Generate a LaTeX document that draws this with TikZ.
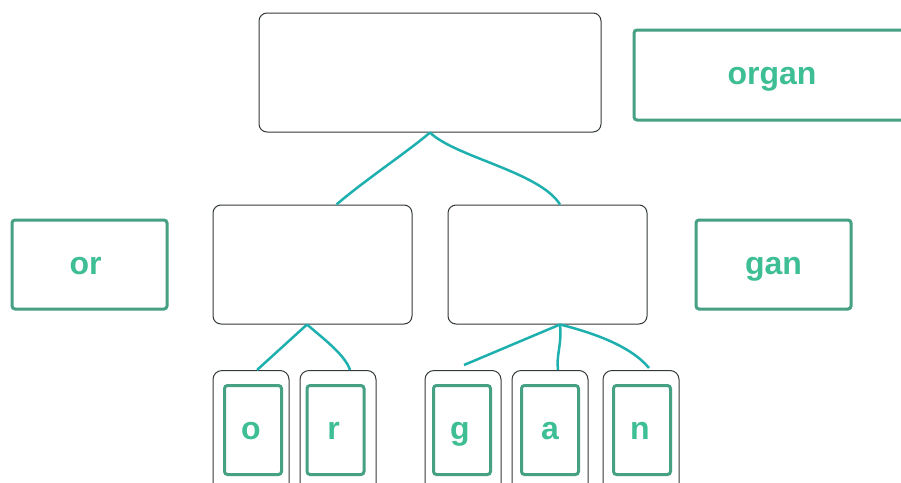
\documentclass[tikz,border=0pt]{standalone}
\usepackage{fontspec}
\setmainfont{Liberation Sans}
\definecolor{boxline}{HTML}{333A38}
\definecolor{gstroke}{HTML}{45A084}
\definecolor{gtext}{HTML}{3DBE94}
\definecolor{teal}{HTML}{1EB0AE}
\begin{document}
\begin{tikzpicture}[x=1pt,y=-1pt,
  plain/.style={draw=boxline,line width=1pt,rounded corners=8pt,inner sep=0pt,fill=white},
  gbox/.style={draw=gstroke,line width=3pt,rounded corners=3pt,inner sep=0pt,fill=white,
    text=gtext,font=\bfseries\fontsize{32}{32}\selectfont,text height=19pt,text depth=0pt},
  link/.style={draw=teal,line width=2.5pt}]
\clip (0,0) rectangle (901,482);
\useasboundingbox (0,0) rectangle (901,482);
% top
\node[plain,minimum width=342pt,minimum height=119pt] (top) at (430,72.5) {};
\node[gbox,minimum width=276pt,minimum height=90pt] (organ) at (772,75) {organ};
% middle
\node[plain,minimum width=199pt,minimum height=119pt] (ml) at (312.5,264.5) {};
\node[plain,minimum width=199pt,minimum height=119pt] (mr) at (547.5,264.5) {};
\node[gbox,minimum width=155pt,minimum height=89pt] (or) at (89.5,264.5) {\hspace*{-8pt}or};
\node[gbox,minimum width=155pt,minimum height=89pt] (gan) at (773.5,264.5) {gan};
% bottom outer
\node[plain,rounded corners=9pt,minimum width=76pt,minimum height=140pt] (b1) at (251,440.5) {};
\node[plain,rounded corners=9pt,minimum width=76pt,minimum height=140pt] (b2) at (338,440.5) {};
\node[plain,rounded corners=9pt,minimum width=76pt,minimum height=140pt] (b3) at (463,440.5) {};
\node[plain,rounded corners=9pt,minimum width=76pt,minimum height=140pt] (b4) at (550,440.5) {};
\node[plain,rounded corners=9pt,minimum width=76pt,minimum height=140pt] (b5) at (641,440.5) {};
% bottom inner
\node[gbox,minimum width=57pt,minimum height=89pt] (lo) at (253,430) {\hspace*{-4pt}o};
\node[gbox,minimum width=57pt,minimum height=89pt] (lr) at (335.5,430) {\hspace*{-4pt}r};
\node[gbox,minimum width=57pt,minimum height=89pt] (lg) at (462,430) {\hspace*{-4pt}g};
\node[gbox,minimum width=57pt,minimum height=89pt] (la) at (550,430) {a};
\node[gbox,minimum width=57pt,minimum height=89pt] (ln) at (642,430) {\hspace*{-4pt}n};
% connectors
\coordinate (tb) at (top.south);
\coordinate (mlt) at ([xshift=24pt]ml.north);
\coordinate (mrt) at ([xshift=12.5pt]mr.north);
\draw[link] (tb) .. controls (410,150) and (365,180) .. (mlt);
\draw[link] (tb) .. controls (455,157) and (540,172) .. (mrt);
\coordinate (mlb) at ([xshift=-5.5pt]ml.south);
\coordinate (b1t) at ([xshift=6pt]b1.north);
\coordinate (b2t) at ([xshift=12pt]b2.north);
\draw[link] (mlb) -- (b1t);
\draw[link] (mlb) .. controls (325,340) and (345,355) .. (b2t);
\coordinate (mrb) at ([xshift=12.5pt]mr.south);
\coordinate (gend) at (464,365);
\coordinate (b4t) at ([xshift=8pt]b4.north);
\coordinate (nend) at (649,368);
\draw[link] (mrb) -- (gend);
\draw[link] (mrb) .. controls (562,345) and (556,355) .. (b4t);
\draw[link] (mrb) .. controls (590,332) and (630,345) .. (nend);
\end{tikzpicture}
\end{document}
